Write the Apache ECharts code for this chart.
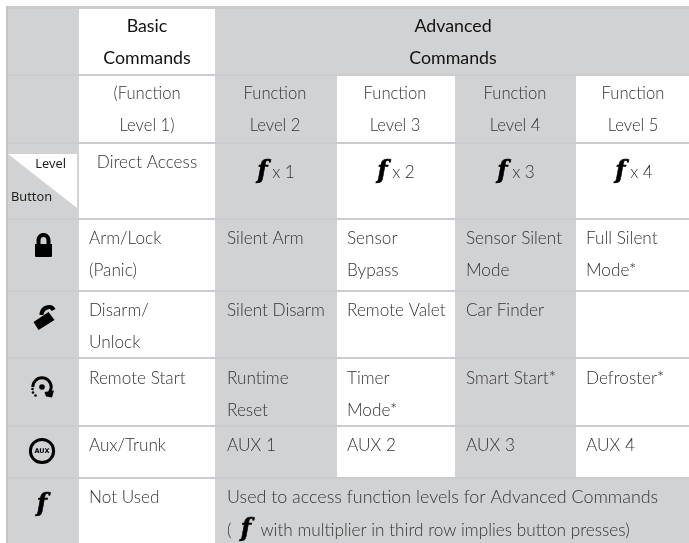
<!DOCTYPE html>
<html><head><meta charset="utf-8">
<style>html,body{margin:0;padding:0;background:#fff}#c{width:689px;height:543px}</style>
<script src="https://cdn.jsdelivr.net/npm/echarts@6/dist/echarts.min.js"></script>
</head><body><div id="c"></div>
<script>
// ---- table content ----
const headerBasic = ['Basic', 'Commands'];
const headerAdvanced = ['Advanced', 'Commands'];
const levelRow = [['(Function', 'Level 1)'], ['Function', 'Level 2'], ['Function', 'Level 3'], ['Function', 'Level 4'], ['Function', 'Level 5']];
const directAccess = 'Direct Access';
const multipliers = ['x 1', 'x 2', 'x 3', 'x 4'];
const armRow = [['Arm/Lock', '(Panic)'], ['Silent Arm'], ['Sensor', 'Bypass'], ['Sensor Silent', 'Mode'], ['Full Silent', 'Mode*']];
const disarmRow = [['Disarm/', 'Unlock'], ['Silent Disarm'], ['Remote Valet'], ['Car Finder'], []];
const startRow = [['Remote Start'], ['Runtime', 'Reset'], ['Timer', 'Mode*'], ['Smart Start*'], ['Defroster*']];
const auxRow = [['Aux/Trunk'], ['AUX 1'], ['AUX 2'], ['AUX 3'], ['AUX 4']];
const notUsed = 'Not Used';
const functionNote = 'Used to access function levels for Advanced Commands';
const functionNote2 = 'with multiplier in third row implies button presses)';
// ---- layout (separate from content) ----
const colEdges = [8, 79, 215, 337, 455, 576, 689];
const rowEdges = [8, 75, 143, 219, 291, 358, 426, 478, 543];
const leftText = [89, 227, 347, 466, 586];
const midText = [147, 275, 395, 515, 633];
const GRAY = '#d1d2d4', LINE = '#cbcccd', INK = '#333333';
const LIGHT = '300 17.2px Lato, sans-serif';
const LEVEL = '300 16.6px Lato, sans-serif';
const BOOK = '400 17.8px Lato, sans-serif';
const FF = 'italic 700 24px "DejaVu Serif", serif';

const cells = [];
function cell(c0, c1, r0, r1, fill) { cells.push([colEdges[c0], colEdges[c1], rowEdges[r0], rowEdges[r1], fill]); }
for (let r = 0; r < 8; r++) {
  cell(0, 1, r, r + 1, GRAY);
  if (r === 0 || r === 7) cell(2, 6, r, r + 1, GRAY);
  else { cell(2, 3, r, r + 1, GRAY); cell(4, 5, r, r + 1, GRAY); }
}
const rules = [];
rowEdges.slice(0, 8).forEach((y, i) => rules.push([i === 0 ? 6 : 8, 689, i === 0 ? 6 : y - 1, i === 0 ? 9 : y + 1, LINE]));
rules.push([6, 8, 6, 543, '#c3c4c6']);

const texts = [];
function put(x, y, text, align, font, color) { texts.push([x, y, text, align || 'left', font || LIGHT, color || INK]); }
function block(row, y0) {
  row.forEach((lines, i) => lines.forEach((t, k) => put(leftText[i], y0 + k * 32, t)));
}
headerBasic.forEach((t, k) => put(147, 26.5 + k * 32, t, 'center', BOOK, '#111'));
headerAdvanced.forEach((t, k) => put(453, 26.5 + k * 32, t, 'center', BOOK, '#111'));
levelRow.forEach((lines, i) => lines.forEach((t, k) => put(midText[i], 94 + k * 32, t, 'center', LEVEL)));
put(147, 162, directAccess, 'center');
multipliers.forEach((t, i) => put(midText[i + 1] + 1, 172, '{f|f} {m|' + t + '}', 'center'));
block(armRow, 238); block(disarmRow, 310); block(startRow, 378); block(auxRow, 445);
put(leftText[0], 497, notUsed);
put(leftText[1], 497, functionNote, 'left', '300 17.9px Lato, sans-serif');
put(leftText[1], 530, '(  {f|f}  ' + functionNote2);
put(66, 164, 'Level', 'right', '400 12.8px "Noto Sans", sans-serif', '#222');
put(11, 197, 'Button', 'left', '400 12.8px "Noto Sans", sans-serif', '#222');
put(42, 505, 'f', 'center', FF, '#000');

const rich = { f: { font: FF, fill: '#000', stroke: '#000', lineWidth: 0.6 }, m: { font: LIGHT, fill: INK } };

const chart = echarts.init(document.getElementById('c'), null, { renderer: 'canvas' });
const rectSeries = (data, z) => ({
  type: 'custom', coordinateSystem: 'cartesian2d', clip: false, silent: true, z, data,
  encode: { x: [0, 1], y: [2, 3] },
  renderItem: (p, api) => {
    const a = api.coord([api.value(0), api.value(2)]);
    const b = api.coord([api.value(1), api.value(3)]);
    return { type: 'rect', shape: { x: a[0], y: a[1], width: b[0] - a[0], height: b[1] - a[1] }, style: { fill: data[p.dataIndex][4] } };
  }
});
const LOCK = 'M0 11 L1.5 11 L1.5 7.5 C1.5 2.5 5 0 8.5 0 C12 0 15.5 2.5 15.5 7.5 L15.5 11 L17 11 L17 23 Q17 24 16 24 L1 24 Q0 24 0 23 Z M5.5 11 L11.5 11 L11.5 7.5 C11.5 5 10.2 4 8.5 4 C6.8 4 5.5 5 5.5 7.5 Z';
const UNLOCK = 'M0 17 L15 7 L21 15 L5 25 Z M6 10 C6 4 10 0 16 0 C19 0 21 2 22 4 L18 6 C17.5 4.5 16.5 4 15.5 4 C12.5 4.5 10.5 6.5 10 9.5 L10 10 Z';
const icons = [[43.5, 245, 17, 24, LOCK], [44.5, 317.5, 22, 25, UNLOCK]];
chart.setOption({
  animation: false,
  grid: { left: 0, right: 0, top: 0, bottom: 0 },
  xAxis: { type: 'value', min: 0, max: 689, show: false },
  yAxis: { type: 'value', min: 0, max: 543, inverse: true, show: false },
  series: [
    rectSeries(cells, 1),
    rectSeries(rules, 2),
    { type: 'custom', coordinateSystem: 'cartesian2d', clip: false, silent: true, z: 3, data: [[8, 154, 77, 208]],
      renderItem: (p, api) => {
        const a = api.coord([api.value(0), api.value(1)]), b = api.coord([api.value(2), api.value(3)]);
        return { type: 'polygon', shape: { points: [[a[0], a[1]], [b[0], a[1]], [b[0], b[1]]] }, style: { fill: '#fff' } };
      } },
    { type: 'custom', coordinateSystem: 'cartesian2d', clip: false, silent: true, z: 4, data: icons, encode: { x: 0, y: 1 },
      renderItem: (p, api) => {
        const c = api.coord([api.value(0), api.value(1)]), d = icons[p.dataIndex];
        return { type: 'path', shape: { pathData: d[4], x: c[0] - d[2] / 2, y: c[1] - d[3] / 2, width: d[2], height: d[3] }, style: { fill: '#000' } };
      } },
    { type: 'custom', coordinateSystem: 'cartesian2d', clip: false, silent: true, z: 4, data: [[42, 387]], encode: { x: 0, y: 1 },
      renderItem: (p, api) => {
        const c = api.coord([api.value(0), api.value(1)]), x = c[0], y = c[1];
        const dots = [[-9.5, 2], [-9, 5.5], [-6.5, 8.5]];
        return { type: 'group', children: [
          { type: 'arc', shape: { cx: x, cy: y, r: 9.2, startAngle: Math.PI * 1.0, endAngle: Math.PI * 0.2, clockwise: true }, style: { fill: null, stroke: '#000', lineWidth: 3 } },
          { type: 'circle', shape: { cx: x, cy: y, r: 2.8 }, style: { fill: '#000' } },
          { type: 'polygon', shape: { points: [[x + 2.5, y + 5], [x + 12, y + 3.5], [x + 10, y + 10.5], [x + 4, y + 9.5]] }, style: { fill: '#000' } }
        ].concat(dots.map(o => ({ type: 'circle', shape: { cx: x + o[0], cy: y + o[1], r: 1.3 }, style: { fill: '#000' } }))) };
      } },
    { type: 'custom', coordinateSystem: 'cartesian2d', clip: false, silent: true, z: 4, data: [[42, 451]], encode: { x: 0, y: 1 },
      renderItem: (p, api) => {
        const c = api.coord([api.value(0), api.value(1)]);
        return { type: 'group', children: [
          { type: 'circle', shape: { cx: c[0], cy: c[1], r: 11.6 }, style: { fill: 'none', stroke: '#000', lineWidth: 3 } },
          { type: 'text', style: { x: c[0], y: c[1], text: 'AUX', align: 'center', verticalAlign: 'middle', font: '700 6.5px "DejaVu Sans", sans-serif', fill: '#000' } }
        ] };
      } },
    { type: 'custom', coordinateSystem: 'cartesian2d', clip: false, silent: true, z: 5, data: texts, encode: { x: 0, y: 1 },
      renderItem: (p, api) => {
        const t = texts[p.dataIndex], c = api.coord([t[0], t[1]]);
        const isF = t[2] === 'f';
        return { type: 'text', style: { x: c[0], y: c[1], text: t[2], align: t[3], verticalAlign: 'middle', font: t[4], fill: t[5], rich,
          stroke: isF ? '#000' : null, lineWidth: isF ? 0.6 : 0 } };
      } }
  ]
});
</script></body></html>
